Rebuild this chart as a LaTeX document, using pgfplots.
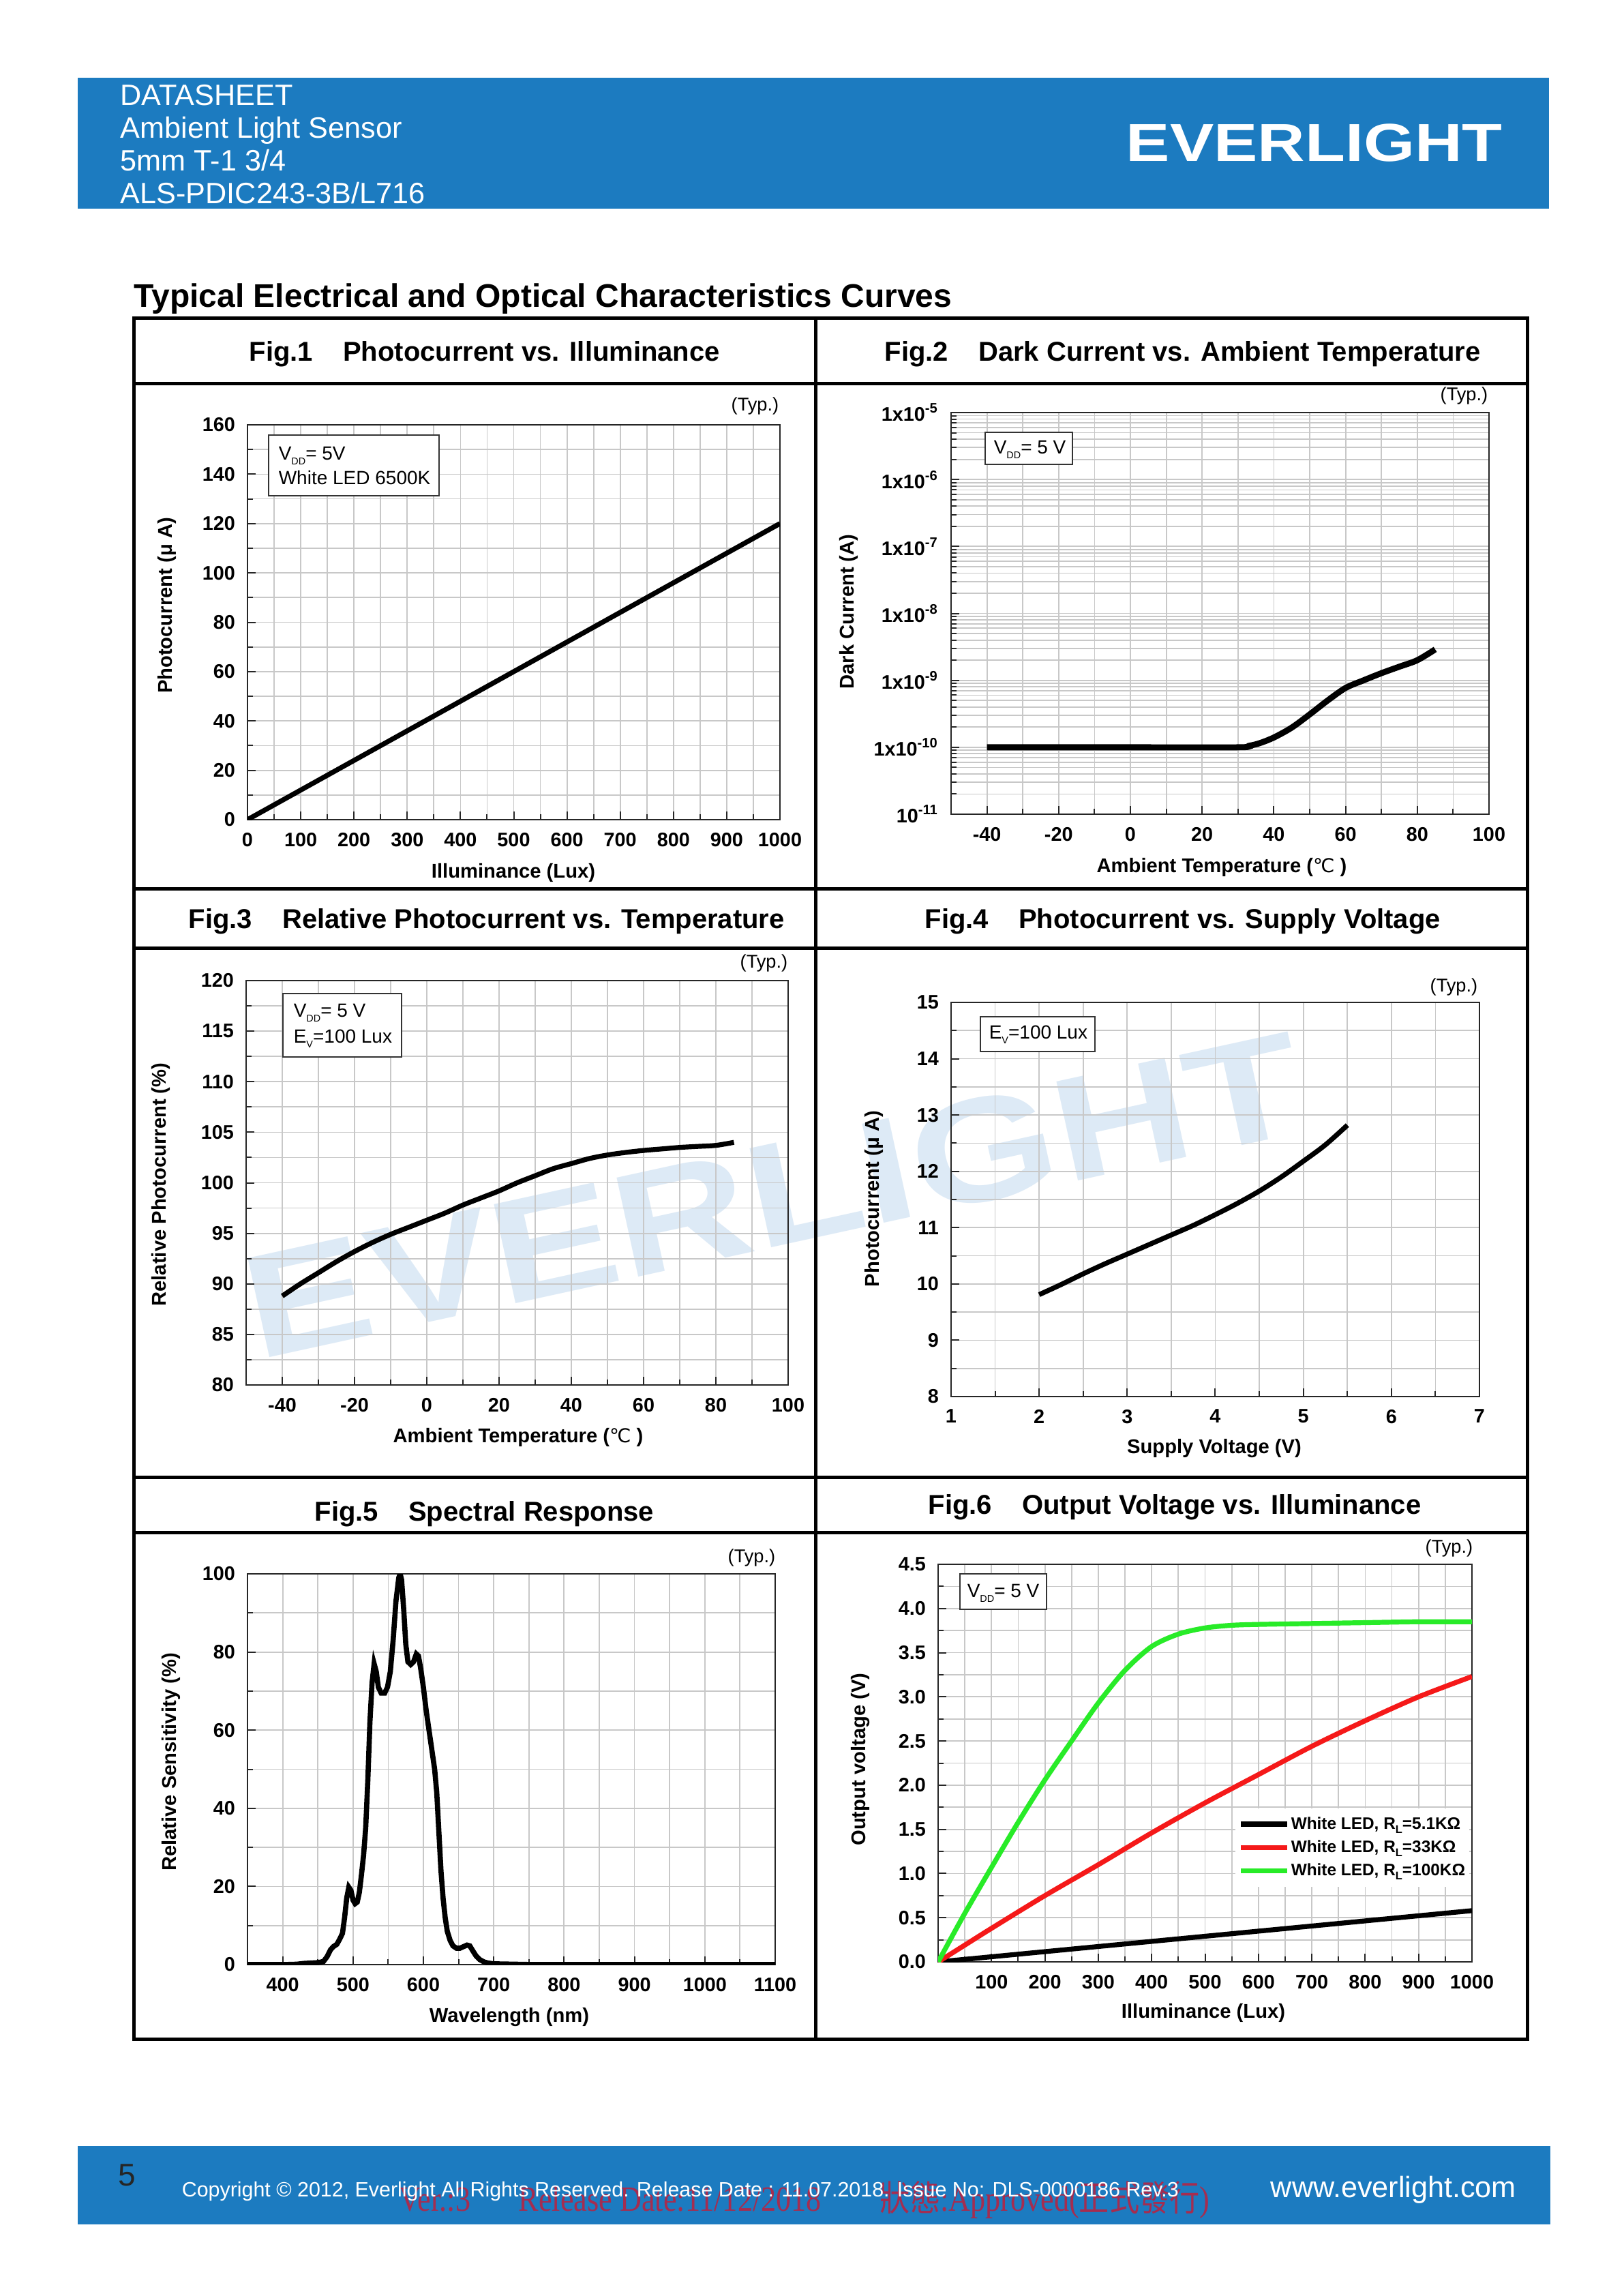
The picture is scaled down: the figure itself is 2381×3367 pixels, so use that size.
\documentclass[border=0pt]{standalone}
\usepackage{fontspec}
\setmainfont{Liberation Sans}
\newfontfamily\timesf{Liberation Serif}
\newfontfamily\cjk{Noto Sans CJK TC}
\newfontfamily\dejavu{DejaVu Sans}
\usepackage{pgfplots}
\pgfplotsset{compat=1.18}
\definecolor{evblue}{RGB}{28,123,192}
\definecolor{gridc}{RGB}{200,200,200}
\definecolor{wm}{RGB}{221,234,246}
\definecolor{stamp}{RGB}{165,45,80}
\definecolor{cgreen}{RGB}{40,235,40}
\definecolor{cred}{RGB}{245,25,25}
\newcommand\fs[1]{\fontsize{#1}{#1}\selectfont}
\newcommand\sub[1]{\raisebox{-1.8pt}{\fontsize{3.6}{4}\selectfont #1}}
\newcommand\subL{\raisebox{-1.5pt}{\fontsize{4.1}{4.5}\selectfont L}}
\pgfplotsset{
  ds/.style={
    scale only axis, anchor=north west,
    axis line style={black!85, line width=0.6pt},
    grid=both,
    major grid style={gridc, line width=0.45pt},
    minor grid style={gridc, line width=0.45pt},
    tick style={black!85, line width=0.5pt},
    major tick length=3pt, minor tick length=2pt,
    tick align=inside, tick pos=left,
    minor x tick num=1,
    tick label style={font=\bfseries\fs{7.2}},
    /pgf/number format/assume math mode=true,
    /pgf/number format/1000 sep={},
    xticklabel style={yshift=-1.2pt},
    yticklabel style={xshift=-1pt},
    every axis plot/.append style={line width=1.8pt, black, mark=none},
  }
}
\begin{document}
\begin{tikzpicture}[x=0.25pt,y=-0.25pt]
\fill[white] (0,0) rectangle (2381,3367);
\path[use as bounding box] (0,0) rectangle (2381,3367);
% header
\fill[evblue] (114,114) rectangle (2272,306);
\node[anchor=base west, inner sep=0, white, font=\fs{10.8}] at (176,154) {DATASHEET};
\node[anchor=base west, inner sep=0, white, font=\fs{10.8}] at (176,202) {Ambient Light Sensor};
\node[anchor=base west, inner sep=0, white, font=\fs{10.8}] at (176,250) {5mm T-1 3/4};
\node[anchor=base west, inner sep=0, white, font=\fs{10.8}] at (176,298) {ALS-PDIC243-3B/L716};
\node[anchor=base west, inner sep=0, white] at (1651,236) {\scalebox{1.23}[1]{\fs{19.6}\bfseries EVERLIGHT}};
% section title
\node[anchor=base west, inner sep=0, font=\bfseries\fs{12}] at (196,450) {Typical Electrical and Optical Characteristics Curves};
% watermark
\node[rotate=12.3, text=wm, inner sep=0] at (1135,1753) {\scalebox{1.28}[1]{\fs{54}\bfseries EVERLIGHT}};

% ---------- Fig 1
\begin{axis}[ds, at={(90.75pt,-155.75pt)}, width=195.25pt, height=144.75pt,
  xmin=0, xmax=1000, ymin=0, ymax=160, minor y tick num=1,
  xtick={0,100,...,1000}, ytick={0,20,...,160}]
\addplot[black, mark=none] coordinates {(0,0) (1000,120)};
\end{axis}
% ---------- Fig 2
\begin{axis}[ds, at={(348.75pt,-151.25pt)}, width=197.25pt, height=147.25pt,
  xmin=-50, xmax=100, ymode=log, ymin=1e-11, ymax=1e-5,
  xtick={-40,-20,...,100},
  ytick={1e-11,1e-10,1e-9,1e-8,1e-7,1e-6,1e-5},
  yticklabels={10\textsuperscript{-11},1x10\textsuperscript{-10},1x10\textsuperscript{-9},1x10\textsuperscript{-8},1x10\textsuperscript{-7},1x10\textsuperscript{-6},1x10\textsuperscript{-5}},
  minor ytick={2e-11,3e-11,4e-11,5e-11,6e-11,7e-11,8e-11,9e-11,
    2e-10,3e-10,4e-10,5e-10,6e-10,7e-10,8e-10,9e-10,
    2e-9,3e-9,4e-9,5e-9,6e-9,7e-9,8e-9,9e-9,
    2e-8,3e-8,4e-8,5e-8,6e-8,7e-8,8e-8,9e-8,
    2e-7,3e-7,4e-7,5e-7,6e-7,7e-7,8e-7,9e-7,
    2e-6,3e-6,4e-6,5e-6,6e-6,7e-6,8e-6,9e-6},
  yticklabel style={xshift=0pt}]
\addplot[line width=2.2pt, smooth] coordinates {(-40,1e-10) (0,1e-10) (30,1e-10) (33,1.05e-10) (36,1.15e-10) (40,1.4e-10) (45,1.97e-10) (50,3.1e-10) (55,5.0e-10) (60,7.7e-10) (65,1.0e-9) (70,1.28e-9) (75,1.6e-9) (80,2.0e-9) (85,2.9e-9)};
\end{axis}
% ---------- Fig 3
\begin{axis}[ds, at={(90.25pt,-359.5pt)}, width=198.75pt, height=148.25pt,
  xmin=-50, xmax=100, ymin=80, ymax=120, minor y tick num=1,
  xtick={-40,-20,...,100}, ytick={80,85,...,120}]
\addplot[smooth] coordinates {(-40,88.8) (-35,90.0) (-30,91.1) (-25,92.2) (-20,93.2) (-15,94.1) (-10,94.9) (-5,95.6) (0,96.3) (5,97.0) (10,97.8) (15,98.5) (20,99.2) (25,100.0) (30,100.7) (35,101.4) (40,101.9) (45,102.4) (50,102.75) (55,103.0) (60,103.2) (65,103.35) (70,103.5) (75,103.6) (80,103.7) (85,104.0)};
\end{axis}
% ---------- Fig 4
\begin{axis}[ds, at={(348.75pt,-367.5pt)}, width=193.75pt, height=144.5pt,
  xmin=1, xmax=7, ymin=8, ymax=15, minor y tick num=1,
  xtick={1,...,7}, ytick={8,...,15}]
\addplot[smooth] coordinates {(2,9.81) (2.25,9.99) (2.5,10.18) (2.75,10.36) (3,10.53) (3.25,10.70) (3.5,10.87) (3.75,11.04) (4,11.23) (4.25,11.43) (4.5,11.65) (4.75,11.9) (5,12.18) (5.25,12.47) (5.5,12.82)};
\end{axis}
% ---------- Fig 5
\begin{axis}[ds, at={(90.75pt,-577pt)}, width=193.5pt, height=143.25pt,
  xmin=350, xmax=1100, ymin=0, ymax=100, minor y tick num=1,
  xtick={400,500,...,1100}, ytick={0,20,...,100}]
\addplot[line width=1.9pt] coordinates {(350,0) (400,0) (420,0.1) (430,0.3) (450,0.5) (458,0.8) (463,2) (468,3.8) (472,4.6) (477,5.2) (481,6.5) (485,8) (488,12) (491,17) (494,19.8) (497,19) (500,16.5) (503,15.6) (506,16) (509,18.5) (512,23) (515,28) (518,35) (521,47) (524,62) (527,72) (530,77) (533,75) (536,71) (540,69.5) (545,69.5) (549,71) (553,75) (557,83) (561,93) (565,99) (567,100) (569,98.5) (572,91) (575,82) (578,77.5) (582,76.8) (586,77.5) (590,79.5) (593,79) (596,76) (600,71) (604,65) (608,60) (612,55) (616,50) (619,44) (622,34) (625,24) (628,17) (631,12) (634,8.5) (638,6.2) (642,4.8) (647,4.2) (652,4.2) (657,4.6) (662,5.0) (666,4.8) (670,3.6) (675,2.2) (680,1.3) (686,0.7) (692,0.4) (700,0.2) (730,0.1) (760,0) (1100,0)};
\end{axis}
% ---------- Fig 6
\begin{axis}[ds, at={(344pt,-573.5pt)}, width=195.75pt, height=145.75pt,
  xmin=0, xmax=1000, ymin=0, ymax=4.5, minor y tick num=1,
  xtick={0,100,...,1000}, xticklabels={{},100,200,300,400,500,600,700,800,900,1000},
  ytick={0,0.5,...,4.5},
  yticklabel style={/pgf/number format/.cd, fixed, fixed zerofill, precision=1},
  legend style={at={(0.556,0.388)}, anchor=north west, draw=none, fill=white,
    font=\bfseries\fs{6.1}, inner xsep=1pt, inner ysep=2pt, row sep=0.9pt,
    nodes={inner sep=0.6pt, text height=5pt, text depth=1.5pt}},
  legend cell align=left,
  legend image code/.code={\draw[#1, line width=1.8pt] (0pt,0pt) -- (17pt,0pt);}]
\addplot[black] coordinates {(0,0) (1000,0.58)};
\addlegendentry{White LED, R\subL=5.1KΩ}
\addplot[cred, smooth] coordinates {(0,0) (50,0.19) (100,0.38) (200,0.75) (300,1.10) (400,1.46) (500,1.80) (600,2.12) (700,2.44) (800,2.73) (900,3.00) (1000,3.23)};
\addlegendentry{White LED, R\subL=33KΩ}
\addplot[cgreen, smooth] coordinates {(0,0) (50,0.55) (100,1.07) (150,1.58) (200,2.06) (250,2.50) (300,2.93) (350,3.30) (400,3.57) (450,3.71) (500,3.78) (550,3.81) (600,3.82) (700,3.83) (800,3.84) (900,3.85) (1000,3.85)};
\addlegendentry{White LED, R\subL=100KΩ}
\end{axis}

% frame
\draw[line width=1.25pt] (196,466) rectangle (2240,2990);
\draw[line width=1.25pt] (1196,466) -- (1196,2990);
\foreach \y in {562,1303,1390,2166,2247} \draw[line width=1.25pt] (196,\y) -- (2240,\y);
% fig titles
\node[anchor=base west, inner sep=0, font=\bfseries\fs{10}] at (365,529) {Fig.1\hspace{11pt}Photocurrent vs. Illuminance};
\node[anchor=base west, inner sep=0, font=\bfseries\fs{10}] at (1297,529) {Fig.2\hspace{11pt}Dark Current vs. Ambient Temperature};
\node[anchor=base west, inner sep=0, font=\bfseries\fs{10}] at (276,1361) {Fig.3\hspace{11pt}Relative Photocurrent vs. Temperature};
\node[anchor=base west, inner sep=0, font=\bfseries\fs{10}] at (1356,1361) {Fig.4\hspace{11pt}Photocurrent vs. Supply Voltage};
\node[anchor=base west, inner sep=0, font=\bfseries\fs{10}] at (461,2230) {Fig.5\hspace{11pt}Spectral Response};
\node[anchor=base west, inner sep=0, font=\bfseries\fs{10}] at (1361,2220) {Fig.6\hspace{11pt}Output Voltage vs. Illuminance};
% axis labels
\tikzset{al/.style={font=\bfseries\fs{7.3}, inner sep=0}, typ/.style={anchor=east, font=\fs{6.8}, inner sep=0}}
\node[al, rotate=90] at (245,888) {Photocurrent (μ A)};
\node[al] at (753,1280) {Illuminance (Lux)};
\node[al, rotate=90] at (1245,897) {Dark Current (A)};
\node[al] at (1792,1272) {Ambient Temperature ({\dejavu\mdseries\fs{7}℃} )};
\node[al, rotate=90] at (236,1737) {Relative Photocurrent (\%)};
\node[al] at (760,2108) {Ambient Temperature ({\dejavu\mdseries\fs{7}℃} )};
\node[al, rotate=90] at (1282,1758) {Photocurrent (μ A)};
\node[al] at (1781,2124) {Supply Voltage (V)};
\node[al, rotate=90] at (251,2584) {Relative Sensitivity (\%)};
\node[al] at (747,2958) {Wavelength (nm)};
\node[al, rotate=90] at (1262,2580) {Output voltage (V)};
\node[al] at (1765,2952) {Illuminance (Lux)};
% (Typ.)
\node[typ] at (1143,595) {(Typ.)};
\node[typ] at (2183,580) {(Typ.)};
\node[typ] at (1156,1412) {(Typ.)};
\node[typ] at (2168,1447) {(Typ.)};
\node[typ] at (1138,2284) {(Typ.)};
\node[typ] at (2161,2270) {(Typ.)};
% condition boxes
\tikzset{bx/.style={draw=black!80, fill=white, line width=0.5pt}, bt/.style={anchor=base west, inner sep=0, font=\fs{7}}}
\draw[bx] (394,638) rectangle (644,727);
\node[bt] at (408,674) {V\sub{DD}= 5V};
\node[bt] at (408,710) {White LED 6500K};
\draw[bx] (1445,634) rectangle (1573,681);
\node[bt] at (1457,665) {V\sub{DD}= 5 V};
\draw[bx] (415,1457) rectangle (589,1550);
\node[bt] at (430,1491) {V\sub{DD}= 5 V};
\node[bt] at (430,1529) {E\sub{V}=100 Lux};
\draw[bx] (1438,1491) rectangle (1606,1542);
\node[bt] at (1450,1523) {E\sub{V}=100 Lux};
\draw[bx] (1408,2308) rectangle (1535,2360);
\node[bt] at (1418,2342) {V\sub{DD}= 5 V};
% footer
\fill[evblue] (114,3147) rectangle (2274,3262);
\node[anchor=base west, inner sep=0, text=black!85, font=\fs{11.5}] at (173,3205) {5};
\node[anchor=base west, inner sep=0, text=stamp] at (585,3242) {\scalebox{0.85}[1]{\timesf\fs{13}Ver.:3}};
\node[anchor=base west, inner sep=0, text=stamp] at (760,3242) {\scalebox{0.85}[1]{\timesf\fs{13}Release Date:11/12/2018}};
\node[anchor=base west, inner sep=0, text=stamp] at (1290,3242) {\scalebox{0.85}[1]{\timesf\fs{13}{\cjk 狀態}:Approved({\cjk 正式發行})}};
\node[anchor=base west, inner sep=0, white, font=\fs{7.6}] at (266,3221) {Copyright © 2012, Everlight All Rights Reserved. Release Date : 11.07.2018. Issue No: DLS-0000186 Rev.3};
\node[anchor=base west, inner sep=0, white, font=\fs{10.8}] at (1863,3222) {www.everlight.com};
\end{tikzpicture}
\end{document}
